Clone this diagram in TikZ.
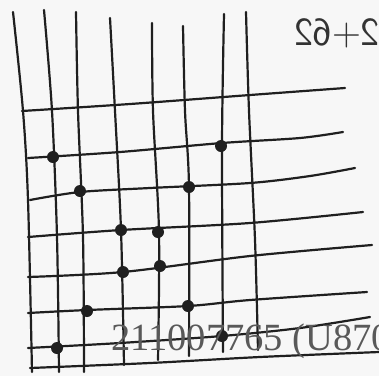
\documentclass[tikz,border=0pt]{standalone}
\usepackage{fontspec}
\usepackage{graphicx}
\newfontfamily\serifnum{Liberation Serif}
\begin{document}
\begin{tikzpicture}[x=1pt,y=-1pt,
  pen/.style={line width=2.2pt,black!88,line cap=round,line join=round},
  blob/.style={circle,fill=black!88,inner sep=0pt,minimum size=12pt},
  stamp/.style={anchor=base west,inner sep=0pt,text=black!65,font=\serifnum\fontsize{38.5}{38.5}\selectfont},
  mirrored/.style={anchor=west,inner sep=0pt,text=black!80,font=\sffamily\fontsize{40}{40}\selectfont}]
\useasboundingbox (0,0) rectangle (379,376);
\clip (0,0) rectangle (379,376);
\fill[black!3] (0,0) rectangle (379,376);
% vertical strokes
\draw[pen] plot[smooth] coordinates {(13,12) (23,111) (28,200) (32,372)};
\draw[pen] plot[smooth] coordinates {(44,10) (52,111) (57,237) (59,372)};
\draw[pen] plot[smooth] coordinates {(76,12) (78,111) (83,237) (84,372)};
\draw[pen] plot[smooth] coordinates {(110,18) (115,111) (121,230) (124,365)};
\draw[pen] plot[smooth] coordinates {(152,23) (153,111) (159,232) (158,360)};
\draw[pen] plot[smooth] coordinates {(183,26) (185,111) (189,187) (189,356)};
\draw[pen] plot[smooth] coordinates {(224,14) (222,146) (223,352)};
\draw[pen] plot[smooth] coordinates {(246,12) (249,111) (255,240) (258,350)};
% horizontal strokes
\draw[pen] plot[smooth] coordinates {(22,111) (130,104) (250,95) (345,88)};
\draw[pen] plot[smooth] coordinates {(28,158) (120,152) (222,143) (300,138) (343,132)};
\draw[pen] plot[smooth] coordinates {(30,200) (80,192) (150,188) (250,183) (310,176) (355,168)};
\draw[pen] plot[smooth] coordinates {(28,237) (121,230) (250,223) (363,212)};
\draw[pen] plot[smooth] coordinates {(28,277) (123,272) (250,256) (372,245)};
\draw[pen] plot[smooth] coordinates {(28,313) (87,310) (188,306) (250,300) (367,292)};
\draw[pen] plot[smooth] coordinates {(28,348) (120,343) (222,336) (300,328) (370,317)};
\draw[pen] plot[smooth] coordinates {(30,368) (150,363) (260,357) (379,352)};
% dots
\node[blob] (d1) at (53,157) {};
\node[blob] (d2) at (221,146) {};
\node[blob] (d3) at (80,191) {};
\node[blob] (d4) at (189,187) {};
\node[blob] (d5) at (121,230) {};
\node[blob] (d6) at (158,232) {};
\node[blob] (d7) at (123,272) {};
\node[blob] (d8) at (160,266) {};
\node[blob] (d9) at (87,311) {};
\node[blob] (d10) at (188,306) {};
\node[blob] (d11) at (57,348) {};
\node[blob] (d12) at (222,336) {};
% texts
\node[mirrored] (mir) at (294,33) {\reflectbox{2+62}};
\node[stamp] (stampnum) at (111,350) {211007765 (U870};
\end{tikzpicture}
\end{document}
